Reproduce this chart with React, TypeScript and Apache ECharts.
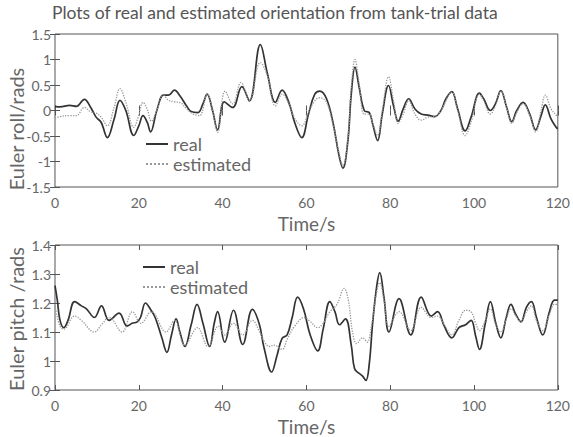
import React, { useEffect, useRef } from "react";
import * as echarts from "echarts";

const title = "Plots of real and estimated orientation from tank-trial data";
const seriesNames = ["real", "estimated"];
const yNames = ["Euler roll/rads", "Euler pitch /rads"];
const xName = "Time/s";
const timeTicks = { min: 0, max: 120, interval: 20 };
const rollTicks = { min: -1.5, max: 1.5, interval: 0.5 };
const pitchTicks = { min: 0.9, max: 1.4, interval: 0.1 };

const rollRealT = [0, 1.2, 3.5, 5.1, 7, 8.6, 9.8, 11, 12.5, 14.1, 15.5, 16.9, 18.8, 20, 21, 22, 22.8, 24.3, 25.9, 27.1, 28.5, 29.8, 31.4, 32.5, 34.1, 35.3, 36.3, 37.6, 38.8, 40.4, 42.4, 44.6, 46.4, 49, 50.7, 52.6, 54.2, 55.8, 57.3, 58.9, 60.5, 62, 63.2, 64.8, 66.4, 67.7, 68.7, 69.9, 70.7, 71.6, 72.6, 73.8, 75, 75.8, 77, 78.1, 79.6, 80.8, 81.9, 83.1, 84.4, 85.9, 87.4, 89, 90.6, 92.1, 93.3, 94.7, 96, 97.9, 99.3, 101.3, 102.3, 103.9, 105.1, 106.4, 107.8, 109, 110.2, 111.7, 113.3, 114.7, 116, 117, 118.4, 119.7, 120];
const rollRealV = [0.08, 0.07, 0.1, 0.08, 0.22, 0.05, -0.13, -0.23, -0.53, -0.17, 0.2, 0, -0.49, -0.3, -0.1, -0.23, -0.42, 0, 0.3, 0.3, 0.4, 0.29, 0.09, -0.02, -0.04, 0.13, 0.32, 0, -0.38, 0.17, 0.06, 0.47, 0.19, 1.29, 0.72, 0.16, 0.4, 0.16, -0.26, -0.53, -0.07, 0.32, 0.38, 0.23, -0.26, -0.85, -1.13, -0.59, 0.32, 0.85, 0.45, 0, -0.04, -0.26, -0.59, -0.07, 0.49, 0.09, -0.21, 0.03, 0.23, 0.03, -0.07, -0.09, -0.12, 0, 0.23, 0.37, 0.06, -0.4, -0.13, 0.34, 0.23, 0, 0.13, 0.39, 0.06, -0.22, 0, 0.16, -0.07, -0.38, -0.1, 0.11, -0.17, -0.34, -0.36];

const rollEstT = [0, 1.2, 3.5, 5.1, 7, 8.6, 9.8, 11, 12.5, 14.1, 15.5, 16.9, 18.8, 20, 21, 22, 23, 24.3, 25.9, 27.1, 28.5, 30, 31.4, 33, 34.5, 36.3, 37.6, 38.8, 40.6, 42.4, 44.4, 46.4, 49, 50.7, 52.6, 54.2, 55.8, 57.3, 58.9, 60.5, 62, 63.2, 64.8, 66.4, 67.7, 68.7, 69.9, 70.7, 71.6, 72.6, 73.8, 75, 75.8, 77, 78.1, 79.6, 80.8, 81.9, 83.1, 84.4, 85.9, 87.4, 89, 90.6, 92.1, 94.7, 96, 97.9, 99.3, 101.3, 102.3, 103.9, 105.1, 106.4, 107.8, 109, 110.2, 111.7, 113.3, 114.7, 116, 117, 118.4, 119.7, 120];
const rollEstV = [-0.15, -0.12, -0.1, -0.1, 0.06, -0.03, -0.05, -0.13, -0.3, 0.06, 0.43, 0.16, -0.33, -0.09, 0.16, 0.03, -0.21, 0, 0.3, 0.2, 0.17, 0.15, 0.03, -0.07, -0.1, 0.32, 0, -0.43, 0.38, 0.13, 0.55, 0.19, 0.94, 0.68, 0.09, 0.32, 0.13, -0.17, -0.3, -0.04, 0.19, 0.25, 0.16, -0.3, -0.8, -1.08, -0.55, 0.45, 1.0, 0.52, -0.07, -0.07, -0.25, -0.49, 0, 0.66, 0.19, -0.25, -0.07, 0.19, -0.07, -0.19, -0.13, -0.12, 0, 0.36, 0.03, -0.49, -0.23, 0.32, 0.19, -0.07, 0.09, 0.38, 0.05, -0.25, -0.04, 0.13, -0.1, -0.42, 0, 0.3, 0.03, -0.1, -0.15];

const pitchRealT = [0, 0.55, 1.2, 2.1, 3.1, 4.7, 6.3, 7.5, 9.4, 11.1, 12.9, 15.3, 17.2, 18.4, 19.6, 20.4, 21.6, 22.7, 23.9, 25.5, 26.7, 27.8, 28.9, 29.8, 31, 32.5, 33.9, 35.3, 36.9, 38, 38.8, 40.5, 42.6, 44.8, 47.1, 48.7, 49.9, 51.7, 53, 54.2, 55.4, 56.6, 57.9, 59.3, 60.9, 62.7, 64, 65.6, 66.8, 67.9, 69.3, 70.7, 71.5, 72.6, 73.4, 74.2, 75, 75.8, 76.8, 77.5, 78.5, 79.7, 82.1, 84.9, 87.4, 89.8, 91.3, 92.9, 94.7, 96.4, 98, 99.3, 100.4, 101.3, 102.7, 103.9, 105.2, 106.4, 107.7, 108.8, 110, 111.2, 112.5, 113.7, 114.9, 116.4, 118, 119.2, 120];
const pitchRealV = [1.26, 1.21, 1.14, 1.115, 1.14, 1.205, 1.19, 1.18, 1.15, 1.19, 1.14, 1.165, 1.12, 1.13, 1.135, 1.15, 1.2, 1.18, 1.15, 1.08, 1.03, 1.09, 1.145, 1.1, 1.05, 1.125, 1.195, 1.13, 1.05, 1.13, 1.17, 1.065, 1.175, 1.057, 1.178, 1.13, 1.045, 0.962, 1.02, 1.078, 1.09, 1.15, 1.22, 1.18, 1.09, 1.035, 1.11, 1.205, 1.17, 1.125, 1.145, 1.055, 0.973, 0.957, 0.948, 0.933, 0.99, 1.13, 1.26, 1.305, 1.22, 1.1, 1.215, 1.09, 1.22, 1.155, 1.17, 1.12, 1.08, 1.115, 1.125, 1.14, 1.085, 1.04, 1.13, 1.205, 1.13, 1.08, 1.15, 1.195, 1.16, 1.135, 1.185, 1.205, 1.15, 1.09, 1.17, 1.21, 1.21];

const pitchEstT = [0, 1.2, 2.1, 4.7, 6.3, 9.4, 11.1, 12.9, 16, 18.5, 20.5, 23, 26.5, 28.5, 31, 34, 36.5, 39, 40.5, 42.6, 44.8, 47.1, 48.7, 50, 51.2, 52.2, 54.2, 55.4, 57.2, 59.5, 61, 62.7, 64, 65.6, 67.3, 69, 70, 71, 72, 73.4, 74.5, 75.5, 76.8, 77.5, 78.5, 79.7, 82.1, 84.9, 87.4, 89.8, 91.3, 92.9, 94.7, 96.4, 98, 99.3, 100.4, 101.3, 102.7, 103.9, 105.2, 106.4, 107.7, 108.8, 110, 111.2, 112.5, 113.7, 114.9, 116.4, 118, 119.2, 120];
const pitchEstV = [1.19, 1.12, 1.11, 1.155, 1.14, 1.1, 1.125, 1.15, 1.1, 1.17, 1.13, 1.17, 1.1, 1.14, 1.055, 1.115, 1.05, 1.12, 1.09, 1.13, 1.09, 1.14, 1.105, 1.065, 1.05, 1.055, 1.04, 1.075, 1.12, 1.15, 1.135, 1.115, 1.13, 1.17, 1.195, 1.25, 1.21, 1.1, 1.06, 1.08, 1.065, 1.12, 1.24, 1.27, 1.21, 1.12, 1.17, 1.105, 1.185, 1.15, 1.155, 1.125, 1.09, 1.14, 1.175, 1.17, 1.13, 1.105, 1.14, 1.18, 1.125, 1.1, 1.145, 1.18, 1.155, 1.135, 1.17, 1.19, 1.14, 1.105, 1.16, 1.195, 1.195];

const FONT = "Lato";
const TEXT = "#666";
const FRAME = "#555";

const zip = (t: number[], v: number[]) => t.map((x, i) => [x, v[i]]);

function makeAxes(grid: number, ticks: { min: number; max: number; interval: number }) {
  const tickStyle = { show: true, inside: true, length: 5, lineStyle: { color: FRAME, width: 1 } };
  const xs = [
    {
      type: "value", gridIndex: grid, position: "bottom", ...timeTicks,
      axisLine: { show: false }, axisTick: tickStyle, splitLine: { show: false },
      axisLabel: { color: TEXT, fontFamily: FONT, fontSize: 14, margin: 8 },
      name: xName, nameLocation: "middle", nameGap: 27,
      nameTextStyle: { color: TEXT, fontFamily: FONT, fontSize: 19 },
    },
    {
      type: "value", gridIndex: grid, position: "top", ...timeTicks,
      axisLine: { show: false }, axisTick: tickStyle, splitLine: { show: false },
      axisLabel: { show: false },
    },
  ];
  const ys = [
    {
      type: "value", gridIndex: grid, position: "left", ...ticks,
      axisLine: { show: false }, axisTick: tickStyle, splitLine: { show: false },
      axisLabel: { color: TEXT, fontFamily: FONT, fontSize: 14, margin: 4 },
    },
    {
      type: "value", gridIndex: grid, position: "right", ...ticks,
      axisLine: { show: false }, axisTick: tickStyle, splitLine: { show: false },
      axisLabel: { show: false },
    },
  ];
  return { xs, ys };
}

export default function App() {
  const ref = useRef<HTMLDivElement>(null);
  useEffect(() => {
    if (!ref.current) return;
    const chart = echarts.init(ref.current, null, { renderer: "svg" });
    const a0 = makeAxes(0, rollTicks);
    const a1 = makeAxes(1, pitchTicks);
    const realStyle = { color: "#333", width: 1.7, type: "solid" };
    const estStyle = { color: "#999", width: 1.3, type: "dotted" };
    const mk = (name: string, data: number[][], axis: number, style: any) => ({
      type: "line", name, data, xAxisIndex: axis, yAxisIndex: axis,
      smooth: 0.4, symbol: "none", showSymbol: false,
      lineStyle: style, itemStyle: { color: style.color },
    });
    const legendBase = {
      orient: "vertical", itemWidth: 22, itemHeight: 10, itemGap: 0,
      data: seriesNames,
      itemStyle: { opacity: 0 },
      textStyle: { color: TEXT, fontFamily: FONT, fontSize: 18, lineHeight: 20 },
      selectedMode: false,
      padding: 0,
    };
    const yNameStyle = { fill: TEXT, fontFamily: FONT, fontSize: 20, textAlign: "center", textVerticalAlign: "middle" };
    chart.setOption({
      animation: false,
      backgroundColor: "#fff",
      title: {
        text: title, left: 52, top: 3, padding: 0,
        textStyle: { color: "#555", fontFamily: FONT, fontSize: 17.5, fontWeight: "normal" },
      },
      legend: [
        { ...legendBase, left: 145, top: 134 },
        { ...legendBase, left: 142, top: 257 },
      ],
      graphic: [
        { type: "text", x: 16, y: 129, rotation: Math.PI / 2, style: { text: yNames[0], ...yNameStyle } },
        { type: "text", x: 16, y: 319, rotation: Math.PI / 2, style: { text: yNames[1], ...yNameStyle } },
      ],
      grid: [
        { left: 55, top: 34, width: 510, height: 153, show: true, borderColor: FRAME, borderWidth: 1, backgroundColor: "transparent" },
        { left: 55, top: 245, width: 510, height: 153, show: true, borderColor: FRAME, borderWidth: 1, backgroundColor: "transparent" },
      ],
      xAxis: [...a0.xs, ...a1.xs],
      yAxis: [...a0.ys, ...a1.ys],
      series: [
        mk(seriesNames[0], zip(rollRealT, rollRealV), 0, realStyle),
        mk(seriesNames[1], zip(rollEstT, rollEstV), 0, estStyle),
        mk(seriesNames[0], zip(pitchRealT, pitchRealV), 2, realStyle),
        mk(seriesNames[1], zip(pitchEstT, pitchEstV), 2, estStyle),
      ],
    } as any);
    return () => chart.dispose();
  }, []);
  return <div ref={ref} style={{ position: "fixed", left: 0, top: 0, width: 573, height: 437 }} />;
}
